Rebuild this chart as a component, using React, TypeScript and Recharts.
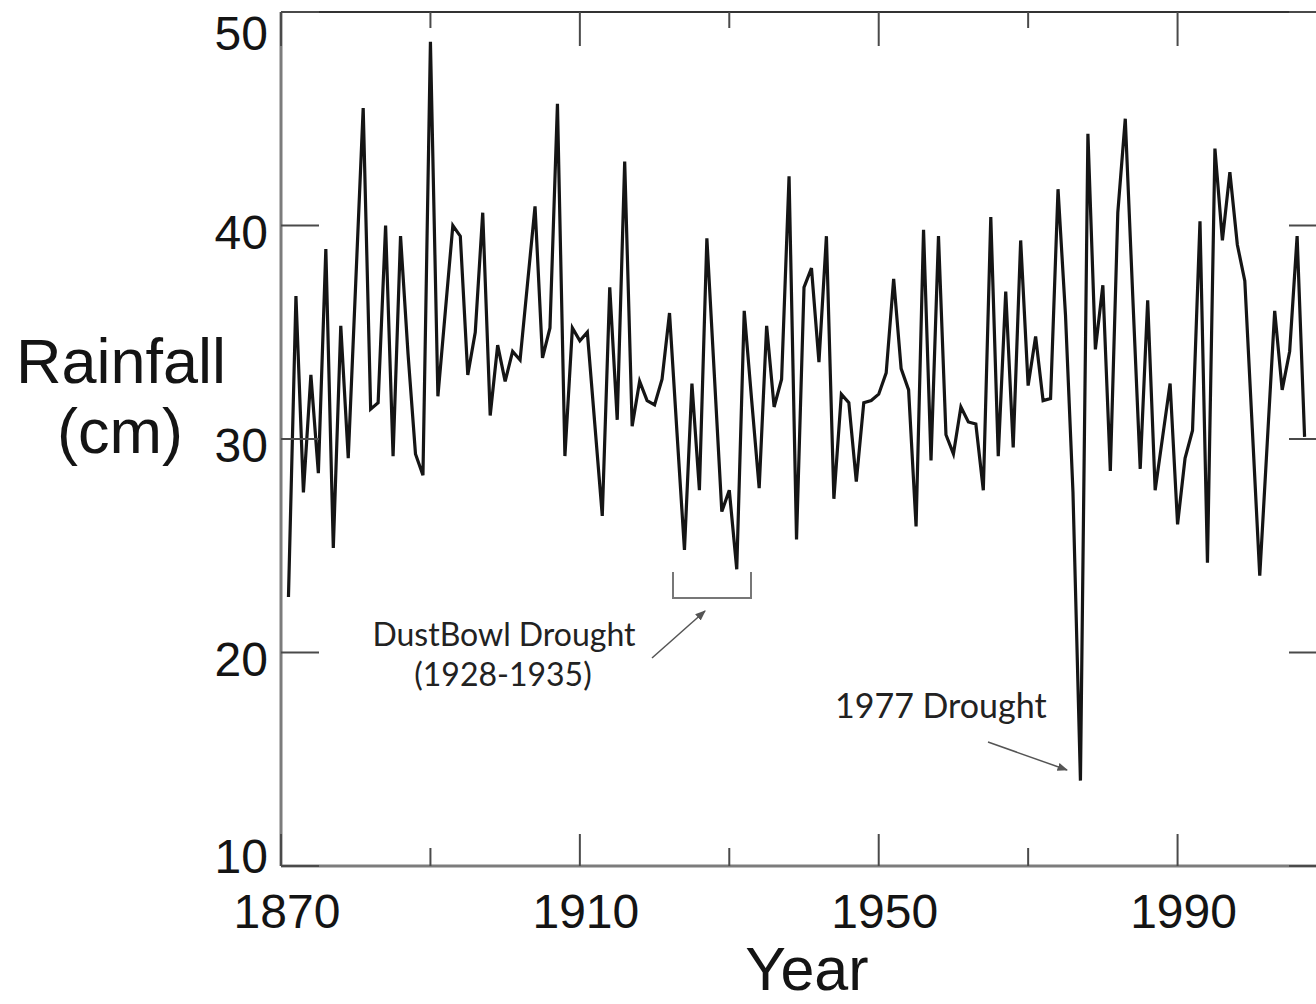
import { Line, LineChart, XAxis, YAxis } from "recharts";

// annual rainfall (cm), 1871 through 2007
const firstYear = 1871;
const rainfall = [
  22.6, 36.7, 27.5, 33.0, 28.4, 38.9, 24.9, 35.3, 29.1, 37.3,
  45.5, 31.4, 31.7, 40.0, 29.2, 39.5, 34.0, 29.3, 28.3, 48.6,
  32.0, 36.0, 40.0, 39.5, 33.0, 35.0, 40.6, 31.1, 34.4, 32.7,
  34.1, 33.7, 37.3, 40.9, 33.8, 35.2, 45.7, 29.2, 35.2, 34.6,
  35.0, 30.7, 26.4, 37.1, 30.9, 43.0, 30.6, 32.7, 31.8, 31.6,
  32.8, 35.9, 30.3, 24.8, 32.6, 27.6, 39.4, 33.0, 26.6, 27.6,
  23.9, 36.0, 31.8, 27.7, 35.3, 31.5, 32.8, 42.3, 25.3, 37.1,
  38.0, 33.6, 39.5, 27.2, 32.1, 31.7, 28.0, 31.7, 31.8, 32.1,
  33.1, 37.5, 33.3, 32.3, 25.9, 39.8, 29.0, 39.5, 30.2, 29.3,
  31.5, 30.8, 30.7, 27.6, 40.4, 29.2, 36.9, 29.6, 39.3, 32.5,
  34.8, 31.8, 31.9, 41.7, 35.8, 27.5, 14.0, 44.3, 34.2, 37.2,
  28.5, 40.6, 45.0, 36.7, 28.6, 36.5, 27.6, 30.1, 32.6, 26.0,
  29.1, 30.4, 40.2, 24.2, 43.6, 39.3, 42.5, 39.1, 37.4, 30.5,
  23.6, 29.8, 36.0, 32.3, 34.1, 39.5, 30.1,
];

const yearTicks = [1870, 1890, 1910, 1930, 1950, 1970, 1990, 2010];
const labelledYears = [1870, 1910, 1950, 1990];
const rainTicks = [10, 20, 30, 40, 50];

const data = rainfall.map((cm, i) => ({ year: firstYear + i, cm }));

const FONT = "'Liberation Sans', Arial, sans-serif";
const NOTE_FONT = "Lato, 'Open Sans', sans-serif";
const AXIS_GRAY = "#7c7c7c";
const TICK = "#4a4a4a";

// label nudges so the end labels stay inside the frame
const rainLabelShift: Record<number, number> = { 50: 38, 10: 7 };

const BottomTick = ({ x, y, payload }: any) => {
  const major = labelledYears.includes(payload.value);
  return (
    <g>
      <line x1={x} x2={x} y1={y} y2={y - (major ? 32 : 18)} stroke={TICK} strokeWidth={2} />
      {major && (
        <text x={x + 6} y={y + 62} textAnchor="middle" fontSize={48} fontFamily={FONT} fill="#141414">
          {payload.value}
        </text>
      )}
    </g>
  );
};

const TopTick = ({ x, y, payload }: any) => {
  const major = labelledYears.includes(payload.value);
  return <line x1={x} x2={x} y1={y} y2={y + (major ? 34 : 16)} stroke={TICK} strokeWidth={2} />;
};

const LeftTick = ({ x, y, payload }: any) => (
  <g>
    <line x1={x} x2={x + 38} y1={y} y2={y} stroke={TICK} strokeWidth={2} />
    <text
      x={x - 13}
      y={y + (rainLabelShift[payload.value] ?? 23)}
      textAnchor="end"
      fontSize={48}
      fontFamily={FONT}
      fill="#141414"
    >
      {payload.value}
    </text>
  </g>
);

const RightTick = ({ x, y }: any) => <line x1={x} x2={x - 38} y1={y} y2={y} stroke={TICK} strokeWidth={2} />;

export default function App() {
  return (
    <div style={{ position: "absolute", left: 0, top: 0, width: 1316, height: 1004, overflow: "hidden", background: "#fff" }}>
      <LineChart width={1360} height={1004} data={data} margin={{ top: 0, right: 13, bottom: 0, left: 201 }}>
        <XAxis
          dataKey="year"
          type="number"
          domain={[1870, 2010]}
          allowDataOverflow
          ticks={yearTicks}
          interval={0}
          height={138}
          tickSize={0}
          tickMargin={0}
          tickLine={false}
          axisLine={{ stroke: AXIS_GRAY, strokeWidth: 3 }}
          tick={(p: any) => <BottomTick {...p} />}
        />
        <XAxis
          xAxisId="top"
          orientation="top"
          dataKey="year"
          type="number"
          domain={[1870, 2010]}
          allowDataOverflow
          ticks={yearTicks}
          interval={0}
          height={12}
          tickSize={0}
          tickMargin={0}
          tickLine={false}
          axisLine={{ stroke: "#333", strokeWidth: 2 }}
          tick={(p: any) => <TopTick {...p} />}
        />
        <YAxis
          type="number"
          domain={[10, 50]}
          allowDataOverflow
          ticks={rainTicks}
          interval={0}
          width={80}
          tickSize={0}
          tickMargin={0}
          tickLine={false}
          axisLine={{ stroke: AXIS_GRAY, strokeWidth: 3 }}
          tick={(p: any) => <LeftTick {...p} />}
        />
        <YAxis
          yAxisId="right"
          orientation="right"
          type="number"
          domain={[10, 50]}
          allowDataOverflow
          ticks={rainTicks}
          interval={0}
          width={20}
          tickSize={0}
          tickMargin={0}
          tickLine={false}
          axisLine={{ stroke: "#333", strokeWidth: 2 }}
          tick={(p: any) => <RightTick {...p} />}
        />
        <Line
          dataKey="cm"
          type="linear"
          stroke="#151515"
          strokeWidth={3.2}
          dot={false}
          activeDot={false}
          isAnimationActive={false}
        />
      </LineChart>

      <svg width={1316} height={1004} style={{ position: "absolute", left: 0, top: 0, pointerEvents: "none" }}>
        <defs>
          <marker id="head" viewBox="0 0 10 10" refX="9" refY="5" markerWidth="7" markerHeight="7" orient="auto">
            <path d="M0,1 L10,5 L0,9 z" fill="#555" />
          </marker>
        </defs>
        <text x={121} y={383} textAnchor="middle" fontSize={63} fontFamily={FONT} fill="#141414">
          Rainfall
        </text>
        <text x={120} y={453} textAnchor="middle" fontSize={63} fontFamily={FONT} fill="#141414">
          (cm)
        </text>
        <text x={807} y={990} textAnchor="middle" fontSize={61} fontFamily={FONT} fill="#141414">
          Year
        </text>

        <polyline points="673,572 673,598 751,598 751,572" fill="none" stroke="#777" strokeWidth={2} />
        <line x1={652} y1={658} x2={705} y2={611} stroke="#555" strokeWidth={1.5} markerEnd="url(#head)" />
        <text x={504} y={646} textAnchor="middle" fontSize={32} fontFamily={NOTE_FONT} fill="#222">
          DustBowl Drought
        </text>
        <text x={503} y={686} textAnchor="middle" fontSize={32} fontFamily={NOTE_FONT} fill="#222">
          (1928-1935)
        </text>

        <line x1={988} y1={742} x2={1067} y2={770} stroke="#555" strokeWidth={1.5} markerEnd="url(#head)" />
        <text x={835} y={718} fontSize={34} fontFamily={NOTE_FONT} fill="#222">
          1977 Drought
        </text>
      </svg>
    </div>
  );
}
